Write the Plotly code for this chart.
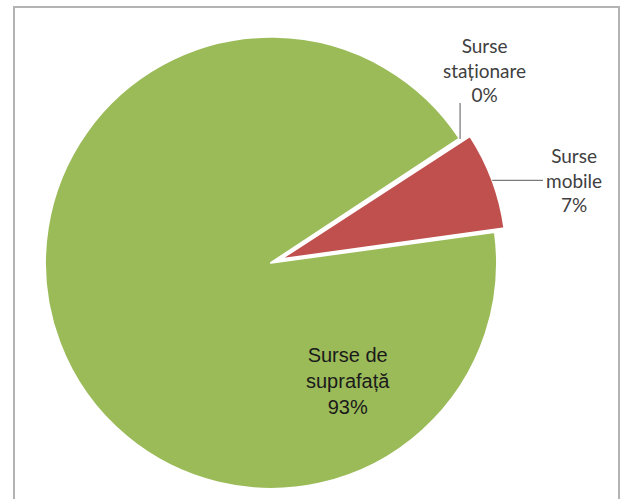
import math
import plotly.graph_objects as go

# Emission sources (share of total)
labels = ["Surse staționare", "Surse mobile", "Surse de suprafață"]
label_lines = [["Surse", "staționare"], ["Surse", "mobile"], ["Surse de", "suprafață"]]
values = [0.1, 7.0, 93.0]
colors = ["#4F81BD", "#C0504D", "#9BBB59"]
pulls = [0.0, 0.045, 0.0]

W, H = 627, 499
CX, R_PIE = 271, 226          # pie centre x (px) and radius (px)
ROT = 56.6                    # start angle of first slice, clockwise from 12 o'clock

half = R_PIE * (1 + max(pulls))
dom_x = [(CX - half) / W, (CX + half) / W]
dom_y = [0.0, 2 * half / H]
CY = H - half

total = sum(values)
pcts = [round(100 * v / total) for v in values]

# slice angles (degrees clockwise from top)
angles = []
acc = 0.0
for v in values:
    a0 = ROT + 360 * acc / total
    acc += v
    a1 = ROT + 360 * acc / total
    angles.append((a0, a1, (a0 + a1) / 2))


def slice_point(i, angle, radius):
    mid = math.radians(angles[i][2])
    off = pulls[i] * R_PIE
    a = math.radians(angle)
    x = CX + off * math.sin(mid) + radius * math.sin(a)
    y = CY - off * math.cos(mid) - radius * math.cos(a)
    return x, y


def px(x):
    return x / W


def py(y):
    return 1 - y / H


fig = go.Figure(go.Pie(
    labels=labels,
    values=values,
    sort=False,
    direction="clockwise",
    rotation=ROT,
    pull=pulls,
    marker=dict(colors=colors, line=dict(color="white", width=2)),
    textinfo="none",
    hoverinfo="skip",
    showlegend=False,
    domain=dict(x=dom_x, y=dom_y),
))

shapes = []
annotations = []
outer_font = dict(family="Lato, Open Sans, sans-serif", size=19, color="#404040")
lead = dict(color="#595959", width=1)

# Stationary sources: label above, vertical leader down to the slice edge
sx, sy = slice_point(0, angles[0][2], R_PIE)
shapes.append(dict(type="line", xref="paper", yref="paper",
                   x0=px(sx), y0=py(sy), x1=px(sx), y1=py(103), line=lead))
annotations.append(dict(
    x=px(sx + 24), y=py(70), xref="paper", yref="paper",
    text="<br>".join(label_lines[0] + [f"{pcts[0]}%"]),
    showarrow=False, align="center", font=outer_font,
    xanchor="center", yanchor="middle",
))

# Mobile sources: horizontal leader from the pulled slice to the label
mx, my = slice_point(1, angles[1][2], R_PIE)
shapes.append(dict(type="line", xref="paper", yref="paper",
                   x0=px(mx), y0=py(my), x1=px(543), y1=py(my), line=lead))
annotations.append(dict(
    x=px(574), y=py(my), xref="paper", yref="paper",
    text="<br>".join(label_lines[1] + [f"{pcts[1]}%"]),
    showarrow=False, align="center", font=outer_font,
    xanchor="center", yanchor="middle",
))

# Surface sources: label inside the large slice
annotations.append(dict(
    x=px(348), y=py(381), xref="paper", yref="paper",
    text="<br>".join(label_lines[2] + [f"{pcts[2]}%"]),
    showarrow=False, align="center",
    font=dict(family="Liberation Sans, Arial, sans-serif", size=20, color="#1a1a1a"),
    xanchor="center", yanchor="middle",
))

# chart frame (open at the bottom edge of the view)
shapes.append(dict(type="rect", xref="paper", yref="paper",
                   x0=px(14), y0=py(530), x1=px(619), y1=py(7),
                   line=dict(color="#b3b3b3", width=2), layer="below"))

fig.update_layout(
    width=W, height=H,
    margin=dict(l=0, r=0, t=0, b=0),
    paper_bgcolor="white",
    plot_bgcolor="white",
    shapes=shapes,
    annotations=annotations,
)

fig.write_html("out.html")
